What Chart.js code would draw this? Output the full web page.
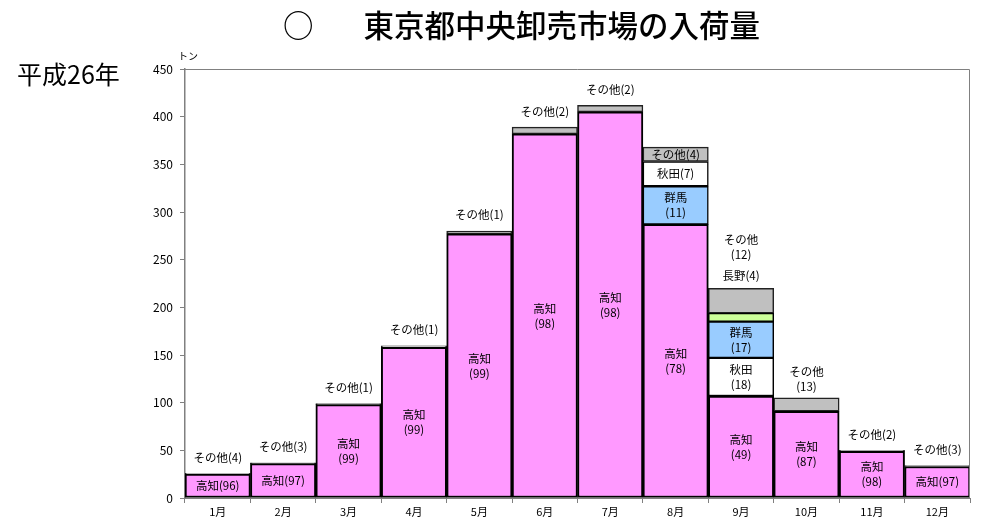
<!DOCTYPE html>
<html>
<head>
<meta charset="utf-8">
<script src="https://cdn.jsdelivr.net/npm/chart.js@4.4.0/dist/chart.umd.min.js"></script>
<style>
  body { margin: 0; background: #fff; }
  #wrap { position: relative; width: 985px; height: 519px; font-family: "Noto Sans CJK JP", sans-serif; }
  #title { position: absolute; top: 2px; left: 283px; font-size: 30.5px; color: #000; white-space: nowrap; font-weight: 500; }
  #title .mark { margin-right: 50px; }
  #year { position: absolute; top: 55px; left: 17px; font-size: 25px; color: #000; }
  #unit { position: absolute; top: 48px; left: 178px; font-size: 10px; color: #000; }
  canvas { position: absolute; left: 0; top: 0; }
</style>
</head>
<body>
<div id="wrap">
  <canvas id="nyukaChart" width="985" height="519"></canvas>
  <div id="title"><span class="mark">○</span>東京都中央卸売市場の入荷量</div>
  <div id="year">平成26年</div>
  <div id="unit">トン</div>
</div>
<script>
// 月
const months = ['1月', '2月', '3月', '4月', '5月', '6月', '7月', '8月', '9月', '10月', '11月', '12月'];

// 入荷量（トン）産地別
const kochi  = [25, 36, 98, 158, 277, 382, 405, 287, 107, 91, 49, 33];
const gunma  = [null, null, null, null, null, null, null, 40, 38, null, null, null];
const akita  = [null, null, null, null, null, null, null, 26, 40, null, null, null];
const nagano = [null, null, null, null, null, null, null, null, 9, null, null, null];
const sonota = [1, 1, 1, 1.6, 3, 7, 7, 15, 26, 14, 1, 1];

// シェア（％）
const kochiPct  = [96, 97, 99, 99, 99, 98, 98, 78, 49, 87, 98, 97];
const gunmaPct  = [null, null, null, null, null, null, null, 11, 17, null, null, null];
const akitaPct  = [null, null, null, null, null, null, null, 7, 18, null, null, null];
const naganoPct = [null, null, null, null, null, null, null, null, 4, null, null, null];
const sonotaPct = [4, 3, 1, 1, 1, 2, 2, 4, 12, 13, 2, 3];

// 軸の目盛り
const yTicks = [0, 50, 100, 150, 200, 250, 300, 350, 400, 450];

// 8月は秋田が群馬の上、9月は下
const akitaLow  = akita.map((v, i) => i === 8 ? v : null);
const akitaHigh = akita.map((v, i) => i === 8 ? null : v);

const LABEL_FONT = '11.5px "Noto Sans CJK JP", sans-serif';

function segLabel(name, pct, oneLine) {
    return oneLine ? [name + '(' + pct + ')'] : [name, '(' + pct + ')'];
}

// ラベルを描画するプラグイン
const labelPlugin = {
    id: 'segLabels',
    afterDatasetsDraw(chart) {
        const ctx = chart.ctx;
        ctx.save();
        ctx.font = LABEL_FONT;
        ctx.fillStyle = '#000';
        ctx.textAlign = 'center';
        ctx.textBaseline = 'middle';

        function drawLines(lines, x, cy) {
            const h = 15;
            const start = cy - (lines.length - 1) * h / 2;
            lines.forEach((t, k) => ctx.fillText(t, x, start + k * h));
        }

        // 棒の中のラベル
        const inside = [
            { ds: 0, pct: kochiPct, name: '高知', one: [0, 1, 11] },
            { ds: 1, pct: akitaPct.map((v, i) => i === 8 ? v : null), name: '秋田', one: [] },
            { ds: 2, pct: gunmaPct, name: '群馬', one: [] },
            { ds: 3, pct: akitaPct.map((v, i) => i === 8 ? null : v), name: '秋田', one: [7] },
            { ds: 5, pct: sonotaPct.map((v, i) => i === 7 ? v : null), name: 'その他', one: [7] }
        ];
        inside.forEach(item => {
            const meta = chart.getDatasetMeta(item.ds);
            item.pct.forEach((p, i) => {
                if (p == null) return;
                const bar = meta.data[i];
                const cy = (bar.y + bar.base) / 2;
                drawLines(segLabel(item.name, p, item.one.includes(i)), bar.x, cy);
            });
        });

        // 棒の上のラベル
        const topMeta = chart.getDatasetMeta(5);
        months.forEach((m, i) => {
            if (i === 7) return;
            const bar = topMeta.data[i];
            const top = bar.y;
            if (i === 8) {
                ctx.fillText('長野(' + naganoPct[i] + ')', bar.x, top - 13);
                ctx.fillText('(' + sonotaPct[i] + ')', bar.x, top - 34);
                ctx.fillText('その他', bar.x, top - 49);
            } else if (i === 9) {
                ctx.fillText('(' + sonotaPct[i] + ')', bar.x, top - 11);
                ctx.fillText('その他', bar.x, top - 26);
            } else {
                ctx.fillText('その他(' + sonotaPct[i] + ')', bar.x, top - 16);
            }
        });
        ctx.restore();
    },
    afterDraw(chart) {
        // 枠線（上と右）
        const a = chart.chartArea;
        const ctx = chart.ctx;
        ctx.save();
        ctx.strokeStyle = '#808080';
        ctx.lineWidth = 1;
        ctx.beginPath();
        ctx.moveTo(a.left, a.top + 0.5);
        ctx.lineTo(a.right - 0.5, a.top + 0.5);
        ctx.lineTo(a.right - 0.5, a.bottom);
        ctx.stroke();
        ctx.restore();
    }
};

const common = { borderColor: '#000', borderSkipped: false, barPercentage: 1.0, categoryPercentage: 1.0 };

const config = {
    type: 'bar',
    data: {
        labels: months,
        datasets: [
            Object.assign({ label: '高知', data: kochi, backgroundColor: '#FF99FF', borderWidth: 2 }, common),
            Object.assign({ label: '秋田', data: akitaLow, backgroundColor: '#FFFFFF', borderWidth: 1.5 }, common),
            Object.assign({ label: '群馬', data: gunma, backgroundColor: '#99CCFF', borderWidth: 1.5 }, common),
            Object.assign({ label: '秋田', data: akitaHigh, backgroundColor: '#FFFFFF', borderWidth: 1.5 }, common),
            Object.assign({ label: '長野', data: nagano, backgroundColor: '#CCFF99', borderWidth: 1.5 }, common),
            Object.assign({ label: 'その他', data: sonota, backgroundColor: '#C0C0C0', borderWidth: 1.5 }, common, { borderColor: '#222' })
        ]
    },
    options: {
        responsive: false,
        animation: false,
        layout: { padding: { left: 0, top: 69, right: 15, bottom: 0 } },
        plugins: {
            legend: { display: false },
            tooltip: { enabled: false },
            title: { display: false }
        },
        scales: {
            x: {
                stacked: true,
                grid: { display: true, drawOnChartArea: false, drawTicks: true, tickLength: 5, offset: true, color: '#808080' },
                border: { display: true, color: '#808080', width: 1 },
                ticks: { color: '#000', padding: 2, font: { family: '"Noto Sans CJK JP", sans-serif', size: 11 } },
                afterFit(scale) { scale.height = 21; }
            },
            y: {
                stacked: true,
                min: 0,
                max: 450,
                afterBuildTicks(scale) { scale.ticks = yTicks.map(v => ({ value: v })); },
                grid: { display: true, drawOnChartArea: false, drawTicks: true, tickLength: 5, color: '#808080' },
                border: { display: true, color: '#808080', width: 1.5 },
                ticks: { color: '#000', padding: 7, font: { family: '"Noto Sans CJK JP", sans-serif', size: 12 } },
                afterFit(scale) { scale.width = 185; }
            }
        }
    },
    plugins: [labelPlugin]
};

const ctx = document.getElementById('nyukaChart').getContext('2d');
new Chart(ctx, config);
</script>
</body>
</html>
